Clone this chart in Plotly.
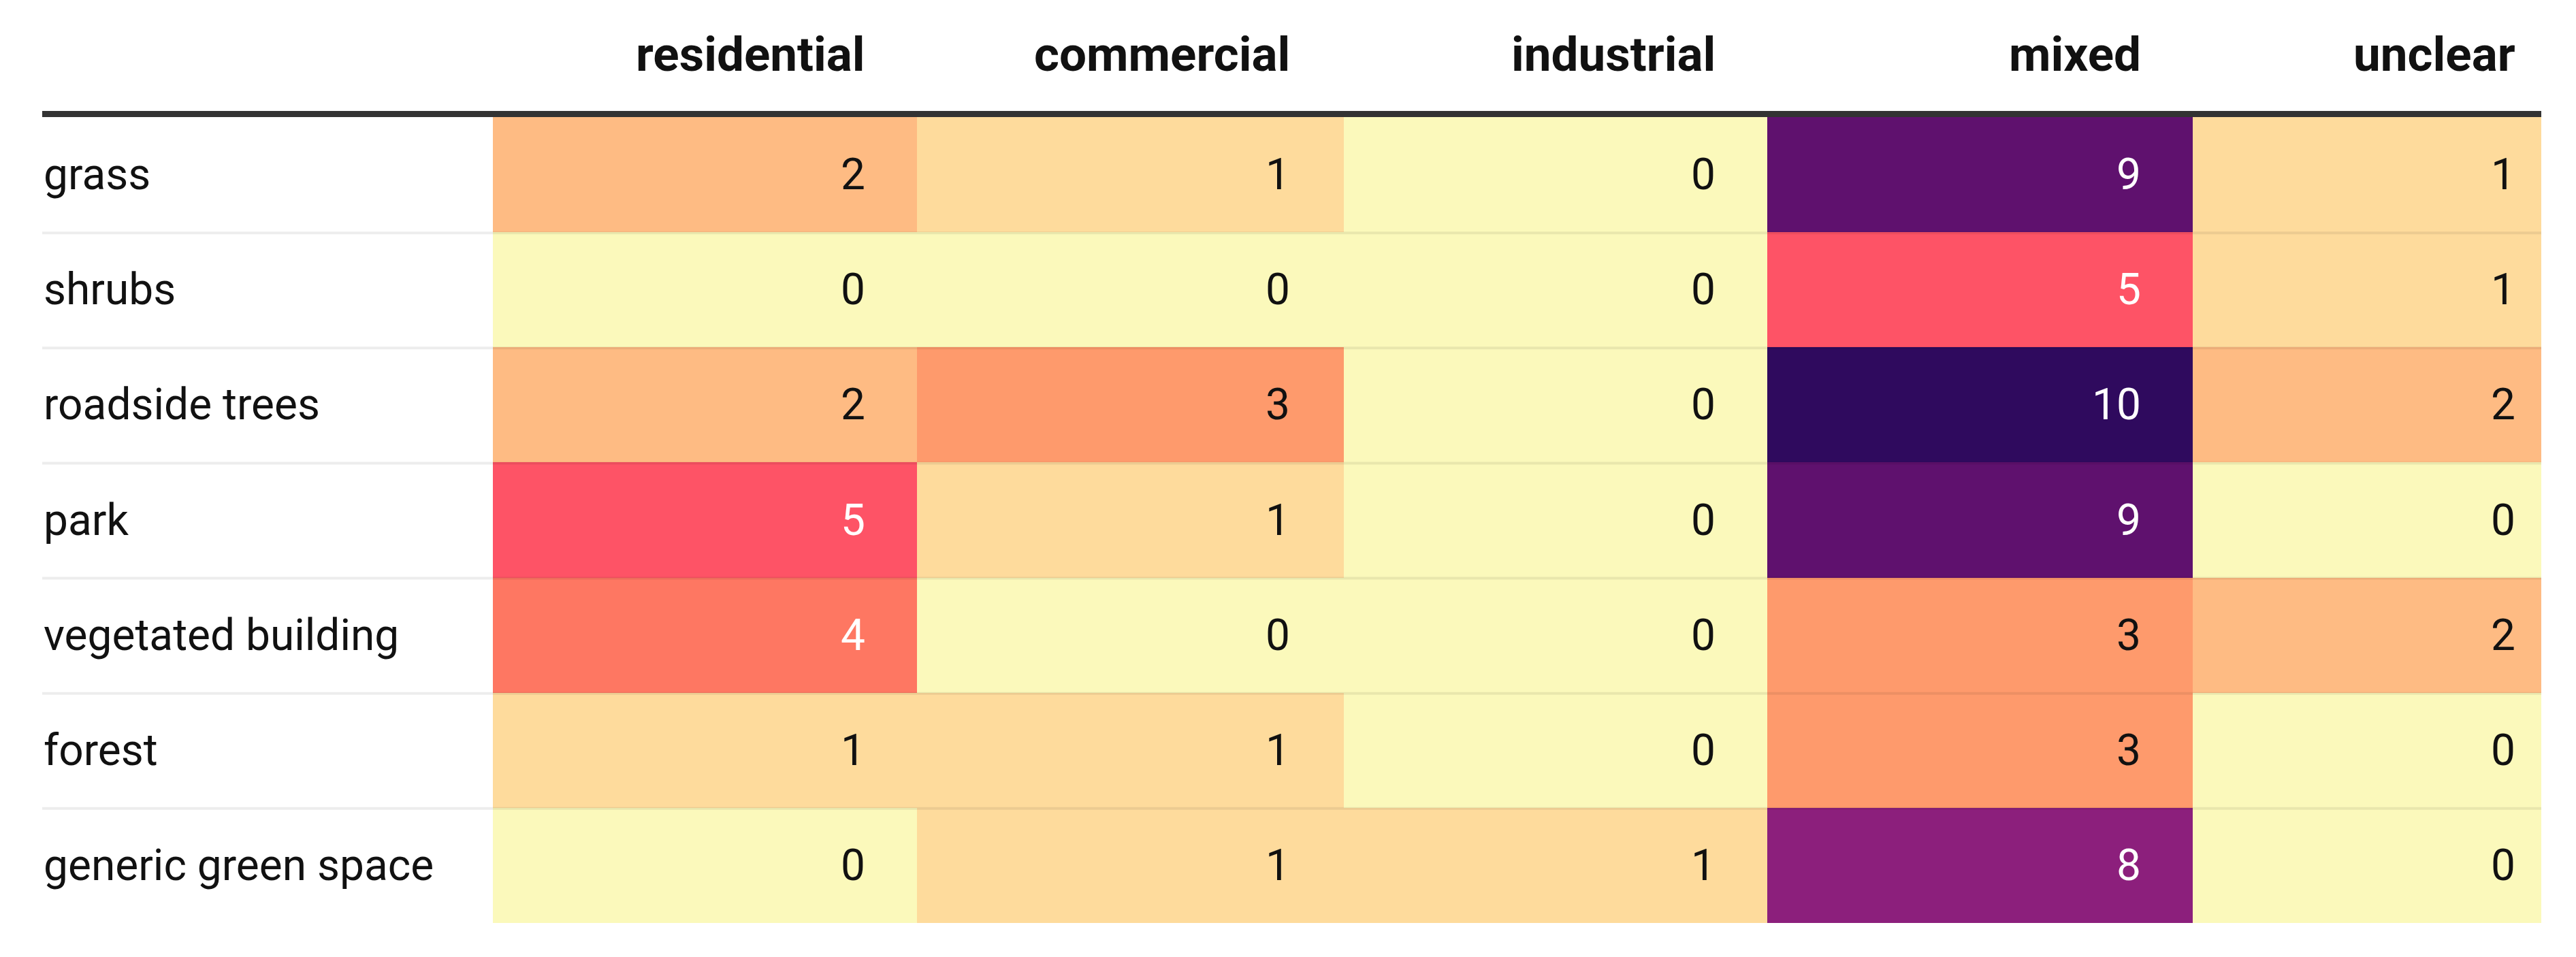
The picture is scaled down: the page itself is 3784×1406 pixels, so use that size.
import plotly.graph_objects as go

# ---------------- data ----------------
rows = ["grass", "shrubs", "roadside trees", "park",
        "vegetated building", "forest", "generic green space"]
cols = ["residential", "commercial", "industrial", "mixed", "unclear"]

residential = [2, 0, 2, 5, 4, 1, 0]
commercial = [1, 0, 3, 1, 0, 1, 1]
industrial = [0, 0, 0, 0, 0, 0, 1]
mixed = [9, 5, 10, 9, 3, 3, 8]
unclear = [1, 1, 2, 0, 2, 0, 0]

series = [residential, commercial, industrial, mixed, unclear]
z = [[series[j][i] for j in range(len(cols))] for i in range(len(rows))]

# ---------------- layout / style ----------------
W, H = 3784, 1406
BODY_MARGIN = 8  # default page margin around the plot div
table_left, table_right = 62, 3733
col_edges = [724, 1347, 1974, 2596, 3221, 3733]
text_pad = [74, 77, 74, 74, 36]
header_line_top, header_line_h = 163, 9
body_top = header_line_top + header_line_h
body_bottom = 1356
row_h = (body_bottom - body_top) / len(rows)
row_edges = [body_top + i * row_h for i in range(len(rows) + 1)]

FONT = "Roboto"
FS = 64
FS_HEAD = 71
colorscale = [
    [0.0, "#FBF9BB"], [0.1, "#FEDB9C"], [0.2, "#FEBB83"], [0.3, "#FE9A6C"],
    [0.4, "#FE7762"], [0.5, "#FE5366"], [0.8, "#8C1F7C"], [0.9, "#5F116E"],
    [1.0, "#2F0A5E"],
]

fig = go.Figure()
fig.add_trace(go.Heatmap(
    z=z, x=col_edges, y=row_edges, zmin=0, zmax=10,
    colorscale=colorscale, showscale=False, hoverinfo="skip",
))

annotations = []
# header labels
for j, c in enumerate(cols):
    annotations.append(dict(
        x=col_edges[j + 1] - text_pad[j], y=79, xref="x", yref="y",
        text=f"<b>{c}</b>", showarrow=False, xanchor="right", yanchor="middle",
        font=dict(family=FONT, size=FS_HEAD, color="#111111"),
    ))
# row labels and cell values
for i, r in enumerate(rows):
    yc = (row_edges[i] + row_edges[i + 1]) / 2
    annotations.append(dict(
        x=table_left, y=yc, xref="x", yref="y", text=r, showarrow=False,
        xanchor="left", yanchor="middle",
        font=dict(family=FONT, size=FS, color="#111111"),
    ))
    for j in range(len(cols)):
        v = z[i][j]
        annotations.append(dict(
            x=col_edges[j + 1] - text_pad[j], y=yc, xref="x", yref="y",
            text=str(v), showarrow=False, xanchor="right", yanchor="middle",
            font=dict(family=FONT, size=FS,
                      color="#FFFFFF" if v >= 4 else "#111111"),
        ))

shapes = [dict(type="rect", xref="x", yref="y", x0=table_left, x1=table_right,
               y0=header_line_top, y1=header_line_top + header_line_h,
               fillcolor="#333333", line=dict(width=0), layer="above")]
for e in row_edges[1:-1]:
    shapes.append(dict(type="rect", xref="x", yref="y", x0=table_left,
                       x1=table_right, y0=e - 1, y1=e + 3,
                       fillcolor="rgba(0,0,0,0.07)", line=dict(width=0),
                       layer="above"))

fig.update_layout(
    width=W - 2 * BODY_MARGIN, height=H - 2 * BODY_MARGIN,
    margin=dict(l=0, r=0, t=0, b=0),
    paper_bgcolor="white", plot_bgcolor="white",
    xaxis=dict(range=[BODY_MARGIN, W - BODY_MARGIN], visible=False,
               fixedrange=True),
    yaxis=dict(range=[H - BODY_MARGIN, BODY_MARGIN], visible=False,
               fixedrange=True),
    annotations=annotations, shapes=shapes, showlegend=False,
)

fig.write_html("out.html")
